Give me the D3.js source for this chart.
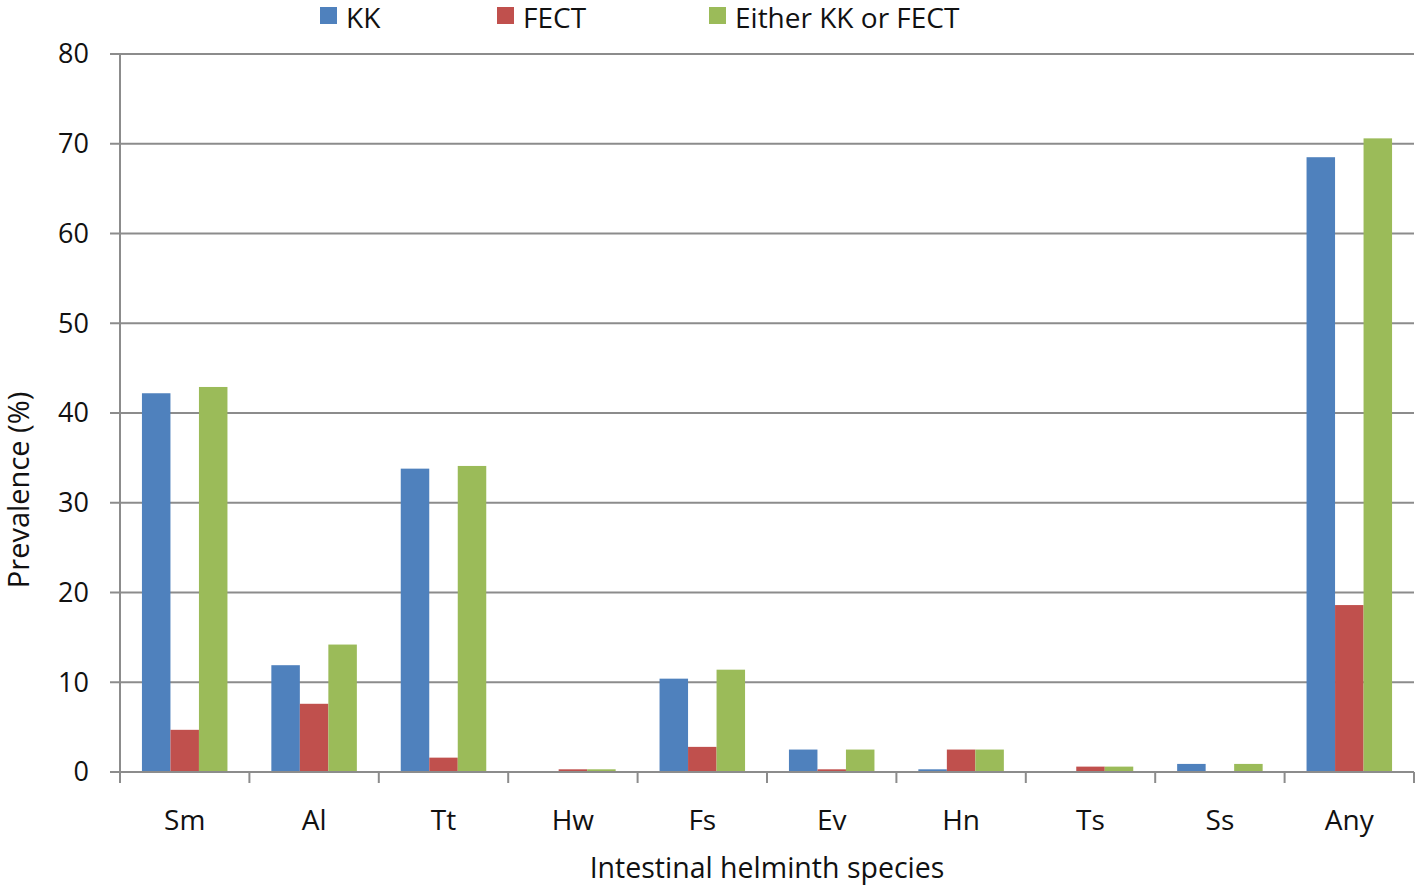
<!DOCTYPE html>
<html><head><meta charset="utf-8">
<script src="https://cdn.jsdelivr.net/npm/d3@7"></script>
<style>body{margin:0;background:#fff;} text{font-family:"Open Sans","Noto Sans",sans-serif;fill:#111;}</style>
</head><body><svg id="c" width="1418" height="889"></svg>
<script>
const categories = ["Sm","Al","Tt","Hw","Fs","Ev","Hn","Ts","Ss","Any"];
const seriesNames = ["KK","FECT","Either KK or FECT"];
const kk     = [42.2, 11.9, 33.8, 0,   10.4, 2.5, 0.3, 0,   0.9, 68.5];
const fect   = [4.7,  7.6,  1.6,  0.3, 2.8,  0.3, 2.5, 0.6, 0,   18.6];
const either = [42.9, 14.2, 34.1, 0.3, 11.4, 2.5, 2.5, 0.6, 0.9, 70.6];
const yTicks = [0,10,20,30,40,50,60,70,80];
const colors = ["#4F81BD","#C0504D","#9BBB59"];

const svg = d3.select("#c");
const L=120, R=1414, T=54, B=772;
const x = d3.scaleBand().domain(categories).range([L,R]).paddingInner(0).paddingOuter(0);
const xs = d3.scaleBand().domain(seriesNames).range([0,x.bandwidth()]).paddingInner(0).paddingOuter(0.77);
const y = d3.scaleLinear().domain([0,80]).range([B,T]);
const grid="#8c8c8c";

// gridlines
svg.append("g").selectAll("line").data(yTicks).join("line")
  .attr("x1",L-10).attr("x2",R).attr("y1",d=>y(d)).attr("y2",d=>y(d))
  .attr("stroke",grid).attr("stroke-width",2);
// y axis line
svg.append("line").attr("x1",L).attr("x2",L).attr("y1",T).attr("y2",B).attr("stroke",grid).attr("stroke-width",2);
// y labels
svg.append("g").selectAll("text").data(yTicks).join("text")
  .attr("x",89).attr("y",d=>y(d)).attr("dy","0.35em").attr("text-anchor","end")
  .attr("font-size",27).text(d=>d);

// bars
const series=[kk,fect,either];
series.forEach((vals,si)=>{
  svg.append("g").selectAll("rect").data(categories).join("rect")
    .attr("x",c=>x(c)+xs(seriesNames[si]))
    .attr("width",xs.bandwidth())
    .attr("y",(c,i)=>y(vals[i]))
    .attr("height",(c,i)=>B-y(vals[i]))
    .attr("fill",colors[si]);
});

// x axis
svg.append("line").attr("x1",L).attr("x2",R).attr("y1",B).attr("y2",B).attr("stroke",grid).attr("stroke-width",2);
const bounds = categories.map(c=>x(c)).concat([R]);
svg.append("g").selectAll("line").data(bounds).join("line")
  .attr("x1",d=>d).attr("x2",d=>d).attr("y1",B).attr("y2",B+11).attr("stroke",grid).attr("stroke-width",2);
svg.append("g").selectAll("text").data(categories).join("text")
  .attr("x",c=>x(c)+x.bandwidth()/2).attr("y",830).attr("text-anchor","middle")
  .attr("font-size",28).text(c=>c);

// axis titles
svg.append("text").attr("x",767).attr("y",878).attr("text-anchor","middle").attr("font-size",28.5).text("Intestinal helminth species");
svg.append("text").attr("transform","translate(29,490) rotate(-90)").attr("text-anchor","middle").attr("font-size",29).text("Prevalence (%)");

// legend
const legX=[320,497,709];
seriesNames.forEach((n,i)=>{
  svg.append("rect").attr("x",legX[i]).attr("y",7).attr("width",17).attr("height",17).attr("fill",colors[i]);
  svg.append("text").attr("x",legX[i]+26).attr("y",28).attr("font-size",28).text(n);
});
</script></body></html>
